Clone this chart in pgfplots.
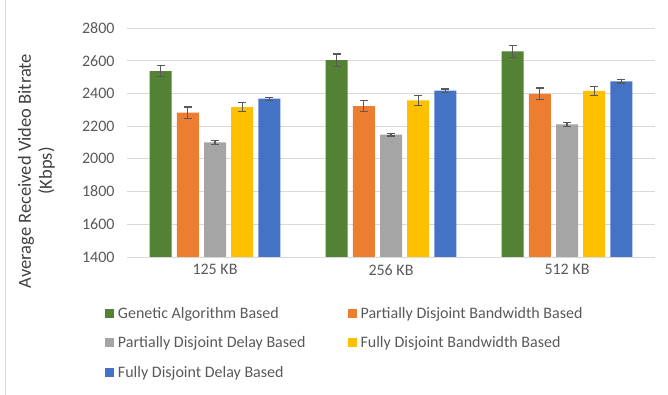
\documentclass[border=0pt]{standalone}
\usepackage{pgfplots}
\pgfplotsset{compat=1.18}
\usepackage{pgfplotstable}
\usepackage{fontspec}
\setmainfont{Carlito}
\definecolor{cga}{HTML}{548235}
\definecolor{cpbw}{HTML}{ED7D31}
\definecolor{cpd}{HTML}{A5A5A5}
\definecolor{cfbw}{HTML}{FFC000}
\definecolor{cfd}{HTML}{4472C4}
\definecolor{errc}{HTML}{595959}
\definecolor{txt}{HTML}{595959}
\definecolor{gridc}{HTML}{D9D9D9}

\pgfplotstableread{
x y e
0 2537 35
1 2604 37
2 2657 37
}\tga
\pgfplotstableread{
x y e
0 2282 35
1 2323 35
2 2398 35
}\tpbw
\pgfplotstableread{
x y e
0 2101 12
1 2148 8
2 2211 12
}\tpd
\pgfplotstableread{
x y e
0 2317 30
1 2358 30
2 2415 30
}\tfbw
\pgfplotstableread{
x y e
0 2368 9
1 2417 10
2 2474 10
}\tfd

\begin{document}
\begin{tikzpicture}
\useasboundingbox (0,0) rectangle (668bp,395bp);
\draw[gridc, line width=0.8bp] (5bp,0) -- (5bp,395bp);
\begin{axis}[
  at={(127bp,138bp)}, anchor=south west,
  scale only axis, width=528bp, height=229bp,
  ybar=5.2bp, bar width=22bp,
  xmin=-0.5, xmax=2.5, ymin=1400, ymax=2800,
  xtick={0,1,2}, xticklabels={125 KB,256 KB,512 KB},
  ytick={1400,1600,...,2800},
  ymajorgrids, grid style={gridc, line width=0.9bp},
  axis line style={draw=none},
  major tick length=0pt,
  /pgf/number format/assume math mode=true,
  /pgf/number format/set thousands separator={},
  tick label style={font=\fontsize{16bp}{19bp}\selectfont, text=txt},
  yticklabel style={xshift=-9bp},
  xticklabel style={yshift=-4bp},
  legend columns=2,
  legend cell align=left,
  legend style={draw=none, fill=none, inner sep=0pt, outer sep=0pt,
    at={(rel axis cs:0,0)}, anchor=north west, xshift=-22bp, yshift=-48bp,
    font=\fontsize{16bp}{19bp}\selectfont, text=txt,
    row sep=13bp,
    /tikz/every odd column/.append style={column sep=2bp},
    /tikz/every even column/.append style={column sep=40bp}},
  legend image code/.code={\fill[#1] (0bp,-4.5bp) rectangle (9bp,4.5bp);},
  error bars/y dir=both, error bars/y explicit,
  error bars/error bar style={line width=1.1bp, color=errc},
  error bars/error mark options={rotate=90, mark size=4bp, line width=1.1bp, color=errc},
]
\addplot[fill=cga, draw=none] table[x=x, y=y, y error=e] {\tga};
\addlegendentry{Genetic Algorithm Based}
\addplot[fill=cpbw, draw=none] table[x=x, y=y, y error=e] {\tpbw};
\addlegendentry{Partially Disjoint Bandwidth Based}
\addplot[fill=cpd, draw=none] table[x=x, y=y, y error=e] {\tpd};
\addlegendentry{Partially Disjoint Delay Based}
\addplot[fill=cfbw, draw=none] table[x=x, y=y, y error=e] {\tfbw};
\addlegendentry{Fully Disjoint Bandwidth Based}
\addplot[fill=cfd, draw=none] table[x=x, y=y, y error=e] {\tfd};
\addlegendentry{Fully Disjoint Delay Based}
\end{axis}
\node[rotate=90, align=center, font=\fontsize{18.5bp}{21bp}\selectfont, text=black!75] at (36.5bp,224bp) {Average Received Video Bitrate\\(Kbps)};
\end{tikzpicture}
\end{document}
